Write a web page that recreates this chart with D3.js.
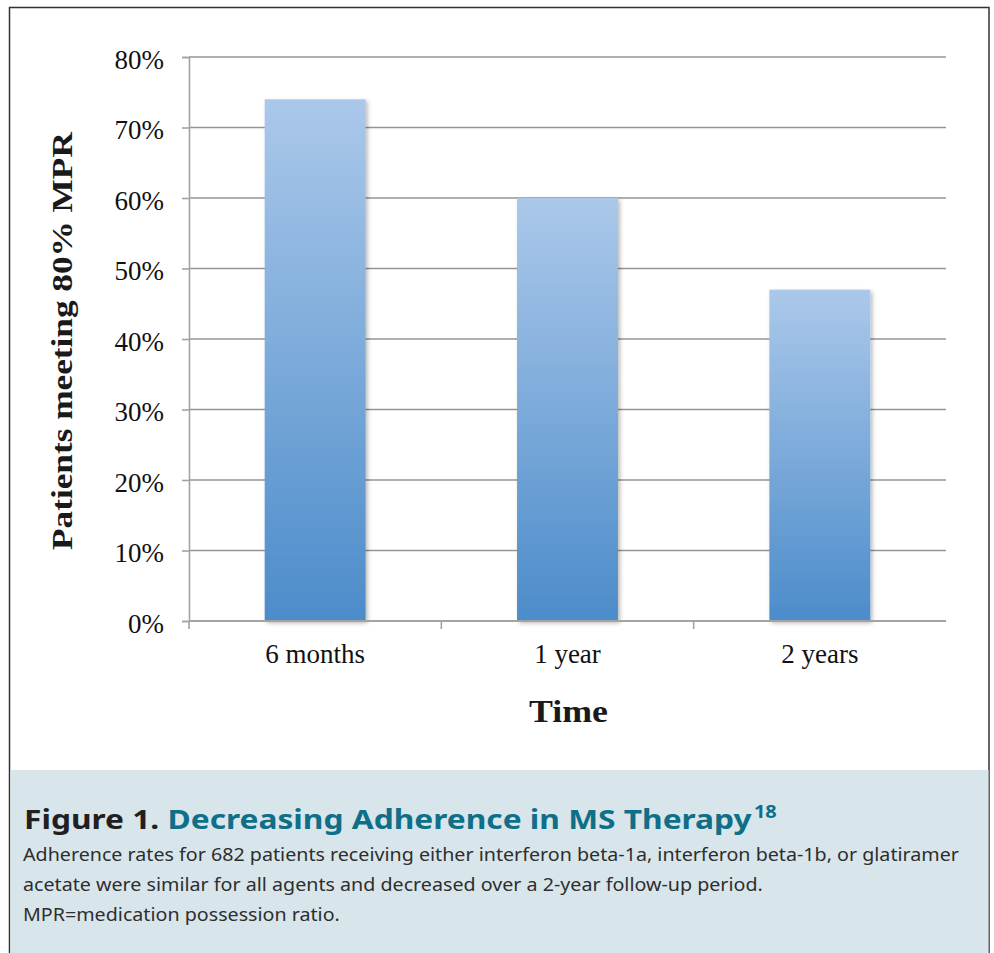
<!DOCTYPE html>
<html>
<head>
<meta charset="utf-8">
<script src="https://cdn.jsdelivr.net/npm/d3@7"></script>
<style>
  html, body { margin: 0; padding: 0; background: #fff; }
  svg { display: block; }
</style>
</head>
<body>
<svg id="chart" width="994" height="953"></svg>
<script>
// Share of patients meeting the 80% medication possession ratio over time
const categories = ["6 months", "1 year", "2 years"];
const values = [74, 60, 47];
const yTickValues = [0, 10, 20, 30, 40, 50, 60, 70, 80];

const captionTitleLead = "Figure 1.";
const captionTitleMain = "Decreasing Adherence in MS Therapy";
const captionRef = "18";
const captionLines = [
  "Adherence rates for 682 patients receiving either interferon beta-1a, interferon beta-1b, or glatiramer",
  "acetate were similar for all agents and decreased over a 2-year follow-up period.",
  "MPR=medication possession ratio."
];

const svg = d3.select("#chart");
const W = 994, H = 953;
const plot = { left: 189, right: 946, top: 57, bottom: 621 };

const serif = "'Liberation Serif', 'DejaVu Serif', serif";
const sans = "'Noto Sans', Lato, sans-serif";

// place a text at (x, y), rotated by rot, stretched along its run to span the given width
function placeStretched(sel, x, y, rot, target) {
  const w = sel.node().getComputedTextLength();
  const sx = target / w;
  sel.attr("transform", `translate(${x},${y}) rotate(${rot}) scale(${sx.toFixed(4)},1)`);
  return sx;
}

// frame around the figure
svg.append("rect")
  .attr("x", 9.5).attr("y", 7.5)
  .attr("width", 979.5).attr("height", H)
  .attr("fill", "#fff")
  .attr("stroke", "#333").attr("stroke-width", 1.5);

const defs = svg.append("defs");
const grad = defs.append("linearGradient")
  .attr("id", "barFill")
  .attr("x1", 0).attr("y1", 0).attr("x2", 0).attr("y2", 1);
grad.append("stop").attr("offset", "0%").attr("stop-color", "#abc8ea");
grad.append("stop").attr("offset", "100%").attr("stop-color", "#4c8cca");

const shadow = defs.append("filter").attr("id", "barShadow")
  .attr("x", "-10%").attr("y", "-10%").attr("width", "130%").attr("height", "130%");
shadow.append("feDropShadow")
  .attr("dx", 2).attr("dy", 2).attr("stdDeviation", 2.2)
  .attr("flood-color", "#000").attr("flood-opacity", 0.28);

const y = d3.scaleLinear().domain([0, 80]).range([plot.bottom, plot.top]);
const x = d3.scaleBand().domain(categories)
  .range([plot.left, plot.right])
  .paddingInner(0.6).paddingOuter(0.3);

// horizontal gridlines
svg.append("g")
  .selectAll("line")
  .data(yTickValues.filter(d => d > 0))
  .join("line")
  .attr("x1", plot.left).attr("x2", plot.right)
  .attr("y1", d => y(d)).attr("y2", d => y(d))
  .attr("stroke", "#959595").attr("stroke-width", 1.6);

// y axis
const yAxis = d3.axisLeft(y)
  .tickValues(yTickValues)
  .tickFormat(d => d + "%")
  .tickSize(7)
  .tickPadding(18);
const yg = svg.append("g")
  .attr("transform", `translate(${plot.left},0)`)
  .call(yAxis);
yg.select(".domain").attr("stroke", "#a3a3a3").attr("stroke-width", 1.6);
yg.selectAll(".tick line").attr("stroke", "#a3a3a3").attr("stroke-width", 1.6);
yg.selectAll(".tick text")
  .attr("font-family", serif).attr("font-size", 27)
  .attr("fill", "#111").attr("dy", "0.42em");

// bars
svg.append("g")
  .selectAll("rect")
  .data(values)
  .join("rect")
  .attr("x", (d, i) => x(categories[i]))
  .attr("width", x.bandwidth())
  .attr("y", d => y(d))
  .attr("height", d => y(0) - y(d))
  .attr("fill", "url(#barFill)")
  .attr("filter", "url(#barShadow)");

// x axis line, category boundary ticks and labels
const xg = svg.append("g");
xg.append("line")
  .attr("x1", plot.left).attr("x2", plot.right)
  .attr("y1", y(0)).attr("y2", y(0))
  .attr("stroke", "#a3a3a3").attr("stroke-width", 1.8);
xg.selectAll("line.tick")
  .data(d3.range(categories.length))
  .join("line").attr("class", "tick")
  .attr("x1", i => plot.left + i * x.step())
  .attr("x2", i => plot.left + i * x.step())
  .attr("y1", y(0)).attr("y2", y(0) + 8)
  .attr("stroke", "#a3a3a3").attr("stroke-width", 1.6);
xg.selectAll("text")
  .data(categories)
  .join("text")
  .attr("x", d => x(d) + x.bandwidth() / 2)
  .attr("y", 663)
  .attr("text-anchor", "middle")
  .attr("font-family", serif).attr("font-size", 27)
  .attr("fill", "#111")
  .text(d => d);

// axis titles
const xTitle = svg.append("text")
  .attr("font-family", serif).attr("font-size", 31).attr("font-weight", "bold")
  .attr("fill", "#1a1a1a")
  .text("Time");
placeStretched(xTitle, 529, 722, 0, 79);

const yTitle = svg.append("text")
  .attr("font-family", serif).attr("font-size", 30).attr("font-weight", "bold")
  .attr("fill", "#1a1a1a")
  .text("Patients meeting 80% MPR");
placeStretched(yTitle, 72, 550, -90, 418);

// caption panel
svg.append("rect")
  .attr("x", 10.5).attr("y", 770)
  .attr("width", 978).attr("height", H - 770)
  .attr("fill", "#d8e6ec");

const title = svg.append("text")
  .attr("font-family", sans).attr("font-size", 27).attr("font-weight", "bold");
title.append("tspan").attr("fill", "#231f20").text(captionTitleLead + " ");
title.append("tspan").attr("fill", "#0f6f88").text(captionTitleMain);
const titleScale = placeStretched(title, 24, 829, 0, 728);
title.append("tspan").attr("fill", "#0f6f88")
  .attr("font-size", 17).attr("dy", -11).attr("dx", 2)
  .text(captionRef);

const body = svg.append("g").attr("class", "caption-body");
const bodyTexts = body.selectAll("text")
  .data(captionLines)
  .join("text")
  .attr("font-family", sans).attr("font-size", 19)
  .attr("fill", "#2e2e2e")
  .text(d => d);
// stretch factor set by the first, fullest line and shared by all lines
const bodyScale = 937 / bodyTexts.nodes()[0].getComputedTextLength();
bodyTexts.attr("transform", (d, i) =>
  `translate(23,${861 + i * 30}) scale(${bodyScale.toFixed(4)},1)`);
</script>
</body>
</html>
